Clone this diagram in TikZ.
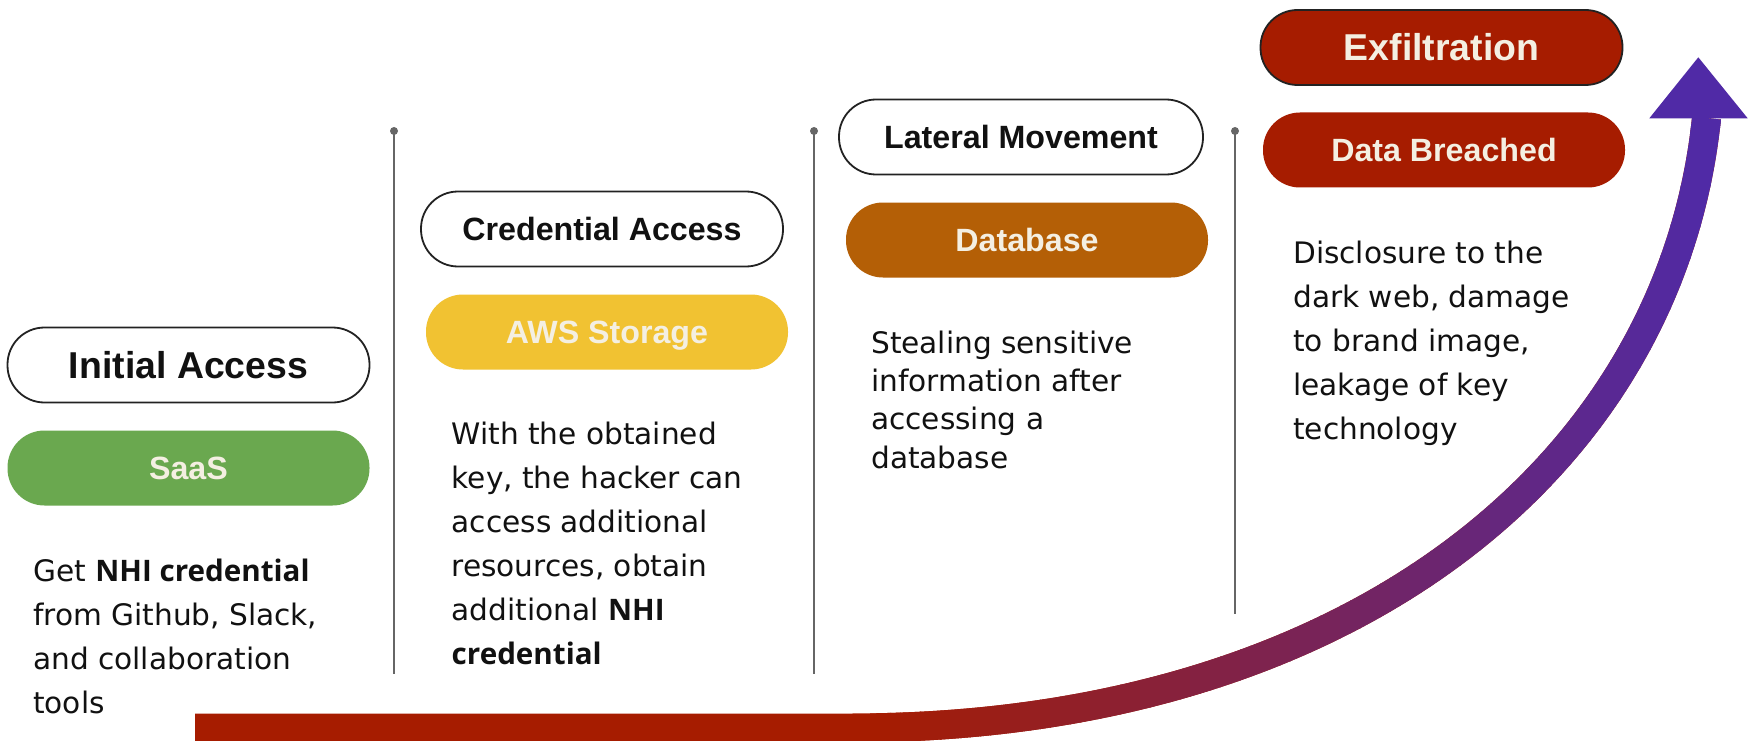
\documentclass[tikz,border=0pt]{standalone}
\usepackage{fontspec}
\setmainfont{DejaVu Sans}
\newfontfamily\headfont{Liberation Sans}
\newfontfamily\nhifont{Open Sans}
\definecolor{saasgreen}{HTML}{6AA84F}
\definecolor{awsgold}{HTML}{F1C232}
\definecolor{dbamber}{HTML}{B45F06}
\definecolor{crimson}{HTML}{A61C00}
\definecolor{arrowpurple}{HTML}{502AA6}
\definecolor{cream}{HTML}{F4EFE2}
\definecolor{rulegray}{HTML}{666666}
\definecolor{ink}{HTML}{111111}
\definecolor{outline}{HTML}{222222}
\newcommand{\nhi}{\nhifont\bfseries}
\tikzset{
  pillbase/.style={rectangle, rounded corners=37pt, minimum width=362pt, minimum height=75pt,
    inner sep=0pt, text height=23pt, text depth=0pt,
    font=\headfont\bfseries\fontsize{32.2}{36}\selectfont},
  outlined/.style={pillbase, draw=outline, line width=1.8pt, fill=white, text=ink},
  filled/.style={pillbase, fill=#1, text=cream},
  big/.style={text height=26.8pt, font=\headfont\bfseries\fontsize{37.4}{40}\selectfont},
  body/.style={anchor=base west, inner sep=0pt, align=left, text=ink,
    font=\fontsize{29.6}{44}\selectfont},
  rulecol/.style={draw=rulegray, line width=1.8pt},
  dotnode/.style={circle, fill=rulegray, inner sep=0pt, minimum size=8pt},
  shaft/.style={line width=29pt}
}
\begin{document}
\begin{tikzpicture}[x=1pt,y=-1pt]
\fill[white] (0,0) rectangle (1749,741);
\useasboundingbox (0,0) rectangle (1749,741);

% arrow
\coordinate (a0) at (195,728);
\coordinate (a1) at (850,728);
\coordinate (c1) at (1350,728);
\coordinate (c2) at (1670.5,466);
\coordinate (a2) at (1706.5,118);
\coordinate (h1) at (1649.3,118.3);
\coordinate (h2) at (1747.7,118.3);
\coordinate (h3) at (1698.3,57.3);
\begin{scope}
\clip (0,0) rectangle (1749,741);
\draw[shaft, draw=crimson] (a0) -- (a1) .. controls (c1) and (c2) .. (a2);
\foreach \i in {0,...,86}{
  \pgfmathsetmacro{\xa}{870+10*\i}
  \pgfmathtruncatemacro{\pct}{min(100,round(\i*100/83))}
  \begin{scope}
    \clip (\xa,0) rectangle ({\xa+11},741);
    \draw[shaft, draw=arrowpurple!\pct!crimson] (a0) -- (a1) .. controls (c1) and (c2) .. (a2);
  \end{scope}
}
\end{scope}
\fill[arrowpurple] (h1) -- (h2) -- (h3) -- cycle;

% separator lines
\node[dotnode] (d1) at (394,131) {};
\node[dotnode] (d2) at (814,131) {};
\node[dotnode] (d3) at (1235,131) {};
\coordinate (e1) at (394,674);
\coordinate (e2) at (814,674);
\coordinate (e3) at (1235,613.5);
\draw[rulecol] (d1.center) -- (e1);
\draw[rulecol] (d2.center) -- (e2);
\draw[rulecol] (d3.center) -- (e3);

% column 1
\node[outlined, big] (ia) at (188.5,365) {Initial Access};
\node[filled=saasgreen] (saas) at (188.5,468) {SaaS};
\node[body] (t1) at (33,713.5) {Get {\nhi NHI credential}\\from Github, Slack,\\and collaboration\\tools};

% column 2
\node[outlined] (ca) at (602,229) {Credential Access};
\node[filled=awsgold] (aws) at (607,332) {AWS Storage};
\node[body] (t2) at (451.5,664.5) {With the obtained\\key, the hacker can\\access additional\\resources, obtain\\additional {\nhi NHI}\\{\nhi credential}};

% column 3
\node[outlined, minimum width=364pt] (lm) at (1021,137) {Lateral Movement};
\node[filled=dbamber] (db) at (1027,240) {Database};
\node[body, font=\fontsize{29.6}{38.3}\selectfont] (t3) at (871,468.2) {Stealing sensitive\\information after\\accessing a\\database};

% column 4
\node[filled=crimson, draw=outline, line width=1.8pt, big, text=cream] (ex) at (1441.5,47.5) {Exfiltration};
\node[filled=crimson] (dbr) at (1444,150) {Data Breached};
\node[body] (t4) at (1293,439.3) {Disclosure to the\\dark web, damage\\to brand image,\\leakage of key\\technology};
\end{tikzpicture}
\end{document}
